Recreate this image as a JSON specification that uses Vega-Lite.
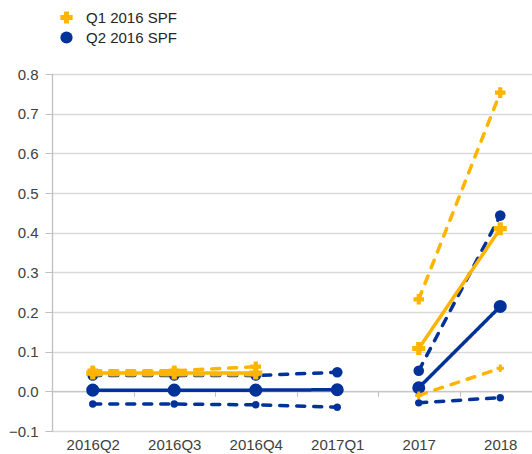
{
  "$schema": "https://vega.github.io/schema/vega-lite/v6.json",
  "width": 489,
  "height": 357,
  "autosize": "none",
  "padding": {"left": 52, "top": 74, "right": 0, "bottom": 23},
  "background": "white",
  "config": {
    "view": {"stroke": null},
    "font": "Liberation Sans",
    "axis": {"labelFont": "Liberation Sans", "labelColor": "#404040", "labelFontSize": 15}
  },
  "data": {
    "values": [
      {"spf": "Q1 2016 SPF", "kind": "central", "period": "q", "x": "2016Q2", "v": 0.046},
      {"spf": "Q1 2016 SPF", "kind": "central", "period": "q", "x": "2016Q3", "v": 0.046},
      {"spf": "Q1 2016 SPF", "kind": "central", "period": "q", "x": "2016Q4", "v": 0.046},
      {"spf": "Q1 2016 SPF", "kind": "upper", "period": "q", "x": "2016Q2", "v": 0.052},
      {"spf": "Q1 2016 SPF", "kind": "upper", "period": "q", "x": "2016Q3", "v": 0.052},
      {"spf": "Q1 2016 SPF", "kind": "upper", "period": "q", "x": "2016Q4", "v": 0.062},
      {"spf": "Q1 2016 SPF", "kind": "lower", "period": "q", "x": "2016Q2", "v": 0.042},
      {"spf": "Q1 2016 SPF", "kind": "lower", "period": "q", "x": "2016Q3", "v": 0.042},
      {"spf": "Q1 2016 SPF", "kind": "lower", "period": "q", "x": "2016Q4", "v": 0.042},
      {"spf": "Q1 2016 SPF", "kind": "central", "period": "a", "x": "2017", "v": 0.108},
      {"spf": "Q1 2016 SPF", "kind": "central", "period": "a", "x": "2018", "v": 0.41},
      {"spf": "Q1 2016 SPF", "kind": "upper", "period": "a", "x": "2017", "v": 0.232},
      {"spf": "Q1 2016 SPF", "kind": "upper", "period": "a", "x": "2018", "v": 0.753},
      {"spf": "Q1 2016 SPF", "kind": "lower", "period": "a", "x": "2017", "v": -0.01},
      {"spf": "Q1 2016 SPF", "kind": "lower", "period": "a", "x": "2018", "v": 0.058},
      {"spf": "Q2 2016 SPF", "kind": "central", "period": "q", "x": "2016Q2", "v": 0.003},
      {"spf": "Q2 2016 SPF", "kind": "central", "period": "q", "x": "2016Q3", "v": 0.003},
      {"spf": "Q2 2016 SPF", "kind": "central", "period": "q", "x": "2016Q4", "v": 0.003},
      {"spf": "Q2 2016 SPF", "kind": "central", "period": "q", "x": "2017Q1", "v": 0.004},
      {"spf": "Q2 2016 SPF", "kind": "upper", "period": "q", "x": "2016Q2", "v": 0.04},
      {"spf": "Q2 2016 SPF", "kind": "upper", "period": "q", "x": "2016Q3", "v": 0.04},
      {"spf": "Q2 2016 SPF", "kind": "upper", "period": "q", "x": "2016Q4", "v": 0.04},
      {"spf": "Q2 2016 SPF", "kind": "upper", "period": "q", "x": "2017Q1", "v": 0.048},
      {"spf": "Q2 2016 SPF", "kind": "lower", "period": "q", "x": "2016Q2", "v": -0.032},
      {"spf": "Q2 2016 SPF", "kind": "lower", "period": "q", "x": "2016Q3", "v": -0.032},
      {"spf": "Q2 2016 SPF", "kind": "lower", "period": "q", "x": "2016Q4", "v": -0.034},
      {"spf": "Q2 2016 SPF", "kind": "lower", "period": "q", "x": "2017Q1", "v": -0.04},
      {"spf": "Q2 2016 SPF", "kind": "central", "period": "a", "x": "2017", "v": 0.009},
      {"spf": "Q2 2016 SPF", "kind": "central", "period": "a", "x": "2018", "v": 0.214},
      {"spf": "Q2 2016 SPF", "kind": "upper", "period": "a", "x": "2017", "v": 0.052},
      {"spf": "Q2 2016 SPF", "kind": "upper", "period": "a", "x": "2018", "v": 0.443},
      {"spf": "Q2 2016 SPF", "kind": "lower", "period": "a", "x": "2017", "v": -0.029},
      {"spf": "Q2 2016 SPF", "kind": "lower", "period": "a", "x": "2018", "v": -0.016}
    ]
  },
  "encoding": {
    "x": {
      "field": "x", "type": "ordinal",
      "scale": {"domain": ["2016Q2", "2016Q3", "2016Q4", "2017Q1", "2017", "2018"], "paddingInner": 0, "paddingOuter": 0},
      "axis": {
        "title": null, "labelAngle": 0, "tickBand": "extent", "offset": -39.7,
        "domainColor": "#BFBFBF", "tickColor": "#BFBFBF", "tickSize": 5,
        "labelPadding": 41, "grid": false
      }
    },
    "y": {
      "field": "v", "type": "quantitative",
      "scale": {"domain": [-0.1, 0.8], "nice": false, "zero": false},
      "axis": {
        "title": null, "values": [-0.1, 0, 0.1, 0.2, 0.3, 0.4, 0.5, 0.6, 0.7, 0.8],
        "format": ".1f", "grid": true, "gridColor": "#D9D9D9", "gridWidth": 1.3,
        "domainColor": "#BFBFBF", "tickColor": "#BFBFBF", "tickSize": 7, "labelPadding": 7, "domainWidth": 1.3
      }
    },
    "color": {
      "field": "spf", "type": "nominal",
      "scale": {"domain": ["Q1 2016 SPF", "Q2 2016 SPF"], "range": ["#FFB400", "#003299"]},
      "legend": {
        "title": null, "orient": "none", "legendX": 7, "legendY": -64,
        "labelFontSize": 15, "labelColor": "#262626", "labelFont": "Liberation Sans",
        "symbolSize": 150, "rowPadding": 4, "symbolStrokeWidth": 0, "labelOffset": 12
      }
    },
    "shape": {
      "field": "spf", "type": "nominal",
      "scale": {"domain": ["Q1 2016 SPF", "Q2 2016 SPF"], "range": ["cross", "circle"]},
      "legend": null
    }
  },
  "layer": [
    {
      "transform": [{"filter": "datum.spf == 'Q2 2016 SPF'"}],
      "mark": {"type": "line", "strokeWidth": 3.5, "strokeCap": "round"},
      "encoding": {
        "detail": {"field": "period"},
        "strokeDash": {"field": "kind", "type": "nominal", "scale": {"domain": ["central", "upper", "lower"], "range": [[1, 0], [8, 9], [8, 9]]}, "legend": null},
        "shape": {"value": "circle"}
      }
    },
    {
      "transform": [{"filter": "datum.spf == 'Q2 2016 SPF'"}],
      "mark": {"type": "point", "filled": true, "opacity": 1},
      "encoding": {
        "size": {"field": "kind", "type": "nominal", "scale": {"domain": ["central", "upper", "lower"], "range": [170, 55, 55]}, "legend": null}
      }
    },
    {
      "transform": [{"filter": "datum.spf == 'Q1 2016 SPF'"}],
      "mark": {"type": "line", "strokeWidth": 3.5, "strokeCap": "round"},
      "encoding": {
        "detail": {"field": "period"},
        "strokeDash": {"field": "kind", "type": "nominal", "scale": {"domain": ["central", "upper", "lower"], "range": [[1, 0], [8, 9], [8, 9]]}, "legend": null},
        "shape": {"value": "cross"}
      }
    },
    {
      "transform": [{"filter": "datum.spf == 'Q1 2016 SPF'"}],
      "mark": {"type": "point", "filled": true, "opacity": 1},
      "encoding": {
        "size": {"field": "kind", "type": "nominal", "scale": {"domain": ["central", "upper", "lower"], "range": [140, 45, 45]}, "legend": null}
      }
    }
  ]
}
